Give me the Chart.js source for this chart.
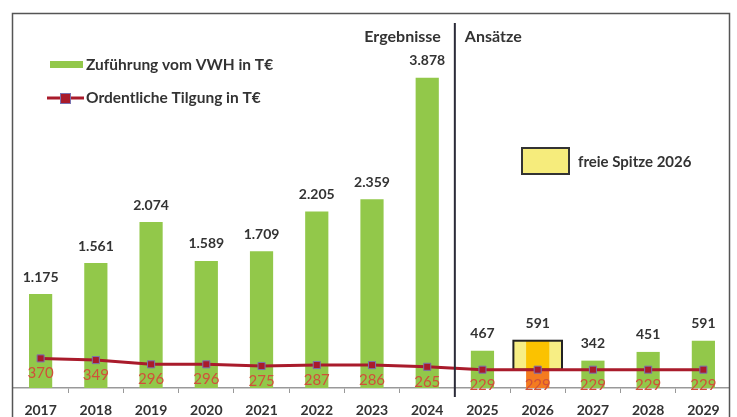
<!DOCTYPE html>
<html lang="de">
<head>
    <meta charset="UTF-8">
    <title>Zuführung und Tilgung</title>
    <style>
        html, body {
            margin: 0;
            padding: 0;
            overflow: hidden;
            background-color: #ffffff;
        }

        canvas {
            display: block;
        }
    </style>
</head>
<body>
    <canvas id="tilgungChart" width="737" height="417"></canvas>

    <script src="https://cdn.jsdelivr.net/npm/chart.js"></script>
    <script>
        // Werte aus der Grafik
        const jahre = ['2017', '2018', '2019', '2020', '2021', '2022', '2023', '2024', '2025', '2026', '2027', '2028', '2029'];
        const zufuehrung = [1175, 1561, 2074, 1589, 1709, 2205, 2359, 3878, 467, null, 342, 451, 591];
        const tilgung = [370, 349, 296, 296, 275, 287, 286, 265, 229, 229, 229, 229, 229];
        // 2026: Zuführung 591, davon 229 für die Tilgung, Rest freie Spitze
        const gedeckt2026 = [null, null, null, null, null, null, null, null, null, 229, null, null, null];
        const freieSpitze = [null, null, null, null, null, null, null, null, null, [229, 591], null, null, null];

        const font = 'Lato, "DejaVu Sans", sans-serif';
        const textColor = '#333333';
        const green = '#92c84a';
        const lineRed = '#a91b2b';
        const labelRed = '#d0503a';

        const fmt = v => v.toLocaleString('de-DE');

        const labelPlugin = {
            id: 'labels',
            afterDatasetDraw(chart, args) {
                const ctx = chart.ctx;
                // Rahmen der freien Spitze nach dem gelben Balken zeichnen
                if (args.index === 3) {
                    const box = chart.getDatasetMeta(4).data[9];
                    ctx.save();
                    ctx.strokeStyle = '#222';
                    ctx.lineWidth = 2;
                    ctx.strokeRect(box.x - box.width / 2, box.y, box.width, box.base - box.y);
                    ctx.restore();
                }
            },
            afterDatasetsDraw(chart) {
                const ctx = chart.ctx;
                ctx.save();
                ctx.textAlign = 'center';
                ctx.textBaseline = 'middle';

                // Zuführung Werte
                ctx.font = 'bold 14px ' + font;
                ctx.fillStyle = textColor;
                chart.getDatasetMeta(0).data.forEach((el, i) => {
                    if (zufuehrung[i] == null) return;
                    ctx.fillText(fmt(zufuehrung[i]), el.x, el.y - 17);
                });
                const gold = chart.getDatasetMeta(3).data[9];
                ctx.fillText(fmt(freieSpitze[9][1]), gold.x, gold.y - 17);

                // Tilgung Werte
                ctx.font = '15px ' + font;
                ctx.fillStyle = labelRed;
                chart.getDatasetMeta(1).data.forEach((el, i) => {
                    ctx.fillText(fmt(tilgung[i]), el.x, el.y + 15);
                });
                ctx.restore();
            },
            afterDraw(chart) {
                const ctx = chart.ctx;
                const x = chart.scales.x;
                const sep = (x.getPixelForValue(7) + x.getPixelForValue(8)) / 2;
                ctx.save();

                // Trennlinie Ergebnisse / Ansätze
                ctx.strokeStyle = '#2b2b38';
                ctx.lineWidth = 2;
                ctx.beginPath();
                ctx.moveTo(sep, 23);
                ctx.lineTo(sep, 397);
                ctx.stroke();

                ctx.font = 'bold 16px ' + font;
                ctx.fillStyle = textColor;
                ctx.textBaseline = 'middle';
                ctx.textAlign = 'right';
                ctx.fillText('Ergebnisse', sep - 14, 37);
                ctx.textAlign = 'left';
                ctx.fillText('Ansätze', sep + 10, 37);

                // Legende
                ctx.font = 'bold 15.5px ' + font;
                ctx.fillStyle = green;
                ctx.fillRect(50, 61, 33, 7);
                ctx.fillStyle = textColor;
                ctx.fillText(chart.data.datasets[0].label, 86, 65);

                ctx.strokeStyle = lineRed;
                ctx.lineWidth = 3;
                ctx.beginPath();
                ctx.moveTo(47, 98);
                ctx.lineTo(84, 98);
                ctx.stroke();
                ctx.fillStyle = lineRed;
                ctx.fillRect(61, 94, 9, 9);
                ctx.strokeStyle = '#7b72b0';
                ctx.lineWidth = 1;
                ctx.strokeRect(60.5, 93.5, 10, 10);
                ctx.fillStyle = textColor;
                ctx.fillText(chart.data.datasets[1].label, 86, 98);

                ctx.fillStyle = '#f6ec7c';
                ctx.fillRect(522, 148, 47, 26);
                ctx.strokeStyle = '#333';
                ctx.lineWidth = 2;
                ctx.strokeRect(522, 148, 47, 26);
                ctx.font = 'bold 15px ' + font;
                ctx.fillStyle = textColor;
                ctx.fillText('freie Spitze 2026', 578, 162);

                // Rahmen
                ctx.fillStyle = '#ffffff';
                ctx.fillRect(730, 0, 7, 417);
                ctx.strokeStyle = '#555555';
                ctx.lineWidth = 1.5;
                ctx.strokeRect(12.5, 13.5, 717, 420);
                ctx.restore();
            }
        };

        const config = {
            type: 'bar',
            data: {
                labels: jahre,
                datasets: [
                    {
                        label: 'Zuführung vom VWH in T€',
                        data: zufuehrung,
                        backgroundColor: green,
                        order: 1
                    },
                    {
                        type: 'line',
                        label: 'Ordentliche Tilgung in T€',
                        data: tilgung,
                        borderColor: lineRed,
                        borderWidth: 3,
                        pointStyle: 'rect',
                        pointRadius: 5,
                        pointBackgroundColor: lineRed,
                        pointBorderColor: '#7b72b0',
                        pointBorderWidth: 1,
                        tension: 0,
                        order: 0
                    },
                    {
                        label: 'Tilgungsanteil 2026',
                        data: gedeckt2026,
                        backgroundColor: '#f47b20',
                        order: 1
                    },
                    {
                        label: 'freie Spitze 2026',
                        data: freieSpitze,
                        backgroundColor: '#fbc200',
                        order: 1
                    },
                    {
                        label: 'Rahmen freie Spitze',
                        data: freieSpitze,
                        backgroundColor: '#f7ee84',
                        barPercentage: 0.88,
                        order: 2
                    }
                ]
            },
            options: {
                responsive: false,
                animation: false,
                datasets: {
                    bar: {
                        grouped: false,
                        categoryPercentage: 1,
                        barPercentage: 0.42
                    }
                },
                layout: {
                    padding: { top: 28, left: 13, right: 3, bottom: 0 }
                },
                plugins: {
                    legend: { display: false },
                    tooltip: { enabled: false }
                },
                scales: {
                    x: {
                        grid: {
                            offset: true,
                            drawOnChartArea: false,
                            tickLength: 5,
                            color: '#999999'
                        },
                        border: { color: '#999999', width: 1.5 },
                        ticks: {
                            padding: 9,
                            color: textColor,
                            font: { family: font, size: 14, weight: 'bold' }
                        },
                        afterFit(scale) {
                            scale.height = 29;
                        }
                    },
                    y: {
                        display: false,
                        min: 0,
                        max: 4500
                    }
                }
            },
            plugins: [labelPlugin]
        };

        window.onload = function() {
            const ctx = document.getElementById('tilgungChart').getContext('2d');
            new Chart(ctx, config);
        };
    </script>
</body>
</html>
